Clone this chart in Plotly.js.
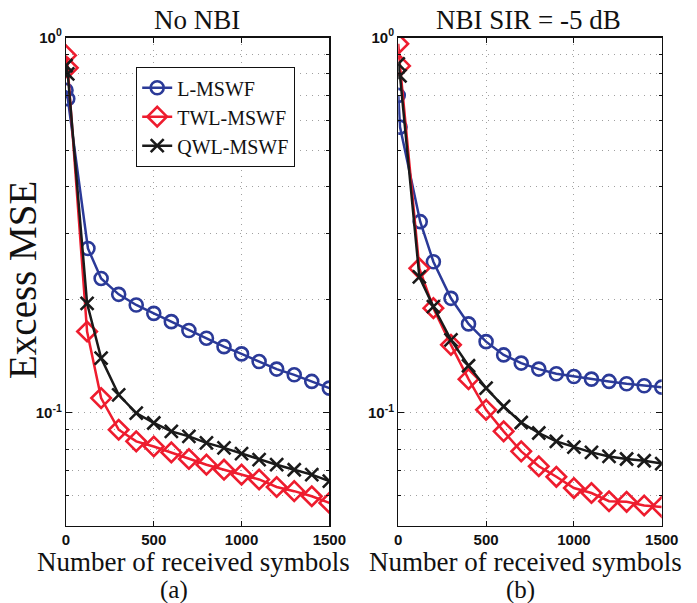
<!DOCTYPE html>
<html>
<head>
<meta charset="utf-8">
<script src="https://cdn.plot.ly/plotly-3.0.1.min.js"></script>
<style>html,body{margin:0;padding:0;background:#fff;}#chart{width:697px;height:603px;}</style>
</head>
<body>
<div id="chart"></div>
<script>
// Number of received symbols (two samples near zero, then ~120, 200 ... 1500)
const symbols = [0, 10, 120, 200, 300, 400, 500, 600, 700, 800, 900, 1000, 1100, 1200, 1300, 1400, 1500];
const symbolsBlue = [0, 10, 125, 200, 300, 400, 500, 600, 700, 800, 900, 1000, 1100, 1200, 1300, 1400, 1500];

// (a) No NBI
const a_L   = [0.723, 0.687, 0.274, 0.228, 0.2068, 0.1937, 0.184, 0.1749, 0.1656, 0.158, 0.150, 0.1435, 0.1369, 0.1307, 0.1262, 0.1212, 0.1163];
const a_TWL = [0.896, 0.83, 0.1646, 0.1094, 0.0901, 0.0839, 0.0813, 0.0784, 0.0753, 0.0727, 0.0705, 0.0684, 0.0664, 0.0634, 0.0618, 0.0599, 0.0575];
const a_QWL = [0.842, 0.80, 0.1957, 0.1398, 0.1116, 0.0998, 0.0939, 0.0892, 0.0865, 0.0831, 0.0806, 0.0778, 0.075, 0.0727, 0.0705, 0.0684, 0.0657];

// (b) NBI SIR = -5 dB
const b_L   = [0.701, 0.577, 0.323, 0.2526, 0.2018, 0.1725, 0.1547, 0.1426, 0.1356, 0.1307, 0.127, 0.1249, 0.1229, 0.1212, 0.1195, 0.118, 0.117];
const b_TWL = [0.962, 0.84, 0.2426, 0.19, 0.1517, 0.1229, 0.1018, 0.0892, 0.0789, 0.072, 0.0675, 0.063, 0.0611, 0.0581, 0.0579, 0.0566, 0.0561];
const b_QWL = [0.851, 0.79, 0.2303, 0.1918, 0.1564, 0.1334, 0.1163, 0.1039, 0.0942, 0.0883, 0.0839, 0.081, 0.0784, 0.0765, 0.0753, 0.0745, 0.0732];

const seriesNames = ['L-MSWF', 'TWL-MSWF', 'QWL-MSWF'];
const panelTitles = ['No NBI', 'NBI SIR = -5 dB'];
const panelLetters = ['(a)', '(b)'];
const xTicks = [0, 500, 1000, 1500];
const yTickVals = [0.1, 1];
const yTickText = ['10<sup>-1</sup>', '10<sup>0</sup>'];
const yMinorVals = [0.06, 0.07, 0.08, 0.09, 0.2, 0.3, 0.4, 0.5, 0.6, 0.7, 0.8, 0.9];

const BLUE = '#2b3a98', RED = '#ee1c2e', BLACK = '#1a1a1a';
const styles = [
  {color: BLUE, symbol: 'circle-open', size: 13},
  {color: RED, symbol: 'diamond-open', size: 15},
  {color: BLACK, symbol: 'x-thin-open', size: 13}
];

function mk(x, y, i, xa, ya, show) {
  const s = styles[i];
  return {
    x: x, y: y, xaxis: xa, yaxis: ya, type: 'scatter', mode: 'lines+markers',
    name: seriesNames[i], showlegend: show,
    line: {color: s.color, width: 2.5},
    marker: {symbol: s.symbol, size: s.size, color: s.color, line: {color: s.color, width: 2.6}}
  };
}

const data = [
  mk(symbolsBlue, a_L, 0, 'x', 'y', true),
  mk(symbols, a_TWL, 1, 'x', 'y', true),
  mk(symbols, a_QWL, 2, 'x', 'y', true),
  mk(symbolsBlue, b_L, 0, 'x2', 'y2', false),
  mk(symbols, b_TWL, 1, 'x2', 'y2', false),
  mk(symbols, b_QWL, 2, 'x2', 'y2', false)
];

const GRID = '#a0a0a0', GDASH = '1px,5px';
const tickFont = {family: 'Liberation Sans, Arial, sans-serif', size: 15, color: '#111', weight: 'bold'};
function xax(dom, anchor) {
  return {
    domain: dom, anchor: anchor, range: [0, 1500], tickvals: xTicks, ticktext: xTicks.map(String),
    ticks: 'inside', ticklen: 5, tickcolor: '#111', showline: true, linecolor: '#111', linewidth: 1.2,
    mirror: 'ticks', showgrid: true, gridcolor: GRID, griddash: GDASH, gridwidth: 1,
    zeroline: false, tickfont: tickFont, fixedrange: true
  };
}
function yax(anchor) {
  return {
    domain: [0.1282, 0.9378], anchor: anchor, type: 'log', range: [Math.log10(0.05), 0],
    tickvals: yTickVals, ticktext: yTickText,
    ticks: 'inside', ticklen: 6, tickcolor: '#111', showline: true, linecolor: '#111', linewidth: 1.2,
    mirror: 'ticks', showgrid: true, gridcolor: GRID, griddash: GDASH, gridwidth: 1,
    minor: {tickvals: yMinorVals, ticks: 'inside', ticklen: 3, tickcolor: '#111',
            showgrid: true, gridcolor: GRID, griddash: GDASH, gridwidth: 1},
    zeroline: false, tickfont: tickFont, fixedrange: true
  };
}

const serif = 'Liberation Serif, Times New Roman, serif';
const layout = {
  width: 697, height: 603,
  margin: {l: 0, r: 0, t: 0, b: 0},
  paper_bgcolor: '#fff', plot_bgcolor: '#fff',
  xaxis: xax([0.0947, 0.4725], 'y'),
  yaxis: yax('x'),
  xaxis2: xax([0.5714, 0.9494], 'y2'),
  yaxis2: yax('x2'),
  legend: {
    x: 136 / 697, y: 1 - 117 / 603, xanchor: 'left', yanchor: 'middle',
    bgcolor: '#fff', bordercolor: '#111', borderwidth: 1.2,
    font: {family: serif, size: 20, color: '#111'}, tracegroupgap: 0
  },
  annotations: [
    {text: panelTitles[0], x: 197, y: 20, size: 27},
    {text: panelTitles[1], x: 528, y: 20, size: 27},
    {text: 'Number of received symbols', x: 193, y: 562, size: 27},
    {text: 'Number of received symbols', x: 525, y: 562, size: 27},
    {text: panelLetters[0], x: 174, y: 590, size: 25},
    {text: panelLetters[1], x: 520, y: 590, size: 25},
    {text: 'Excess MSE', x: 22, y: 280, size: 39, textangle: -90}
  ].map(a => ({
    text: a.text, xref: 'paper', yref: 'paper', x: a.x / 697, y: 1 - a.y / 603,
    xanchor: 'center', yanchor: 'middle', showarrow: false, textangle: a.textangle || 0,
    font: {family: serif, size: a.size, color: '#111'}
  }))
};

Plotly.newPlot('chart', data, layout, {staticPlot: true, displayModeBar: false});
</script>
</body>
</html>
